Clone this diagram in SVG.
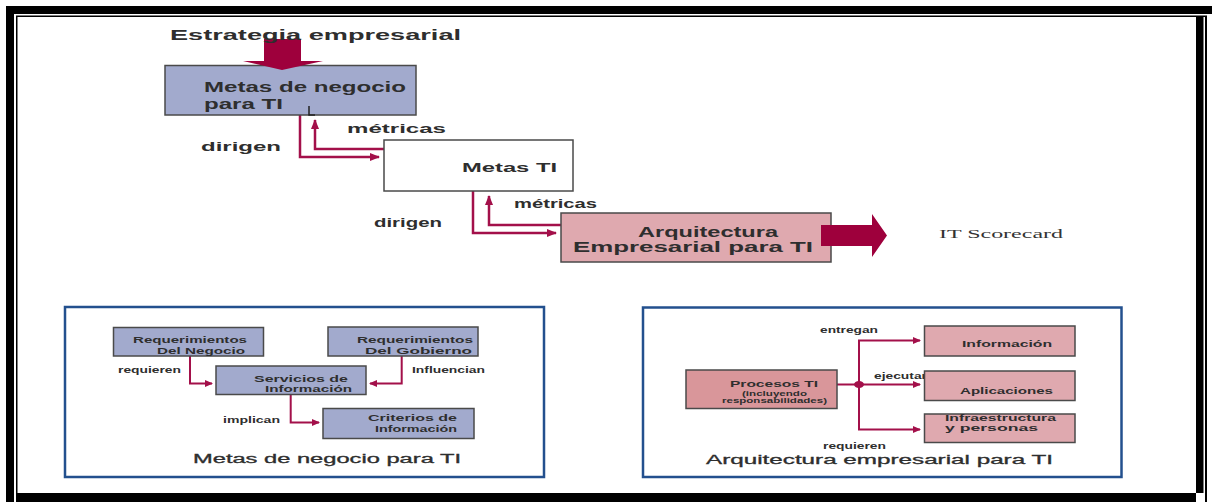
<svg xmlns="http://www.w3.org/2000/svg" width="1212" height="502" viewBox="0 0 1212 502">
<style>
.t{font-family:"Liberation Sans",Arial,sans-serif;font-weight:bold;fill:#2e2e2e}
.lav{fill:#a2aacd;stroke:#4a4a4a;stroke-width:1.5}
.pink{fill:#dfa9af;stroke:#4a4a4a;stroke-width:1.5}
.con{fill:none;stroke:#a3104a;stroke-width:2}
.con2{fill:none;stroke:#a3104a;stroke-width:2.5}
.panel{fill:#fff;stroke:#23508e;stroke-width:2.5}
.big{fill:#9e003c}
</style>
<defs>
<marker id="ah" markerUnits="userSpaceOnUse" markerWidth="8" markerHeight="8" refX="7" refY="4" orient="auto">
<path d="M0,0.5 L8,4 L0,7.5 Z" fill="#a3104a"/>
</marker>
<marker id="ah2" markerUnits="userSpaceOnUse" markerWidth="10" markerHeight="10" refX="9" refY="5" orient="auto">
<path d="M0,1 L10,5 L0,9 Z" fill="#a3104a"/>
</marker>
</defs>
<rect x="0" y="0" width="1212" height="502" fill="#fff"/>
<g id="frame" fill="#000">
<rect x="6" y="6" width="1206" height="8"/>
<rect x="6" y="6" width="8" height="496"/>
<rect x="16" y="15.5" width="1191" height="1.5"/>
<rect x="16" y="16" width="1.5" height="486"/>
<rect x="1196" y="17" width="7.5" height="476"/>
<rect x="1205" y="16" width="2" height="486"/>
<rect x="17" y="493" width="1179" height="9"/>
</g>
<g id="panel-left">
<rect class="panel" x="65" y="307" width="479" height="170"/>
<text x="193" y="463" font-family="'Liberation Sans',Arial,sans-serif" font-size="12" fill="#2e2e2e" textLength="268" lengthAdjust="spacingAndGlyphs" stroke="#2e2e2e" stroke-width="0.3">Metas de negocio para TI</text>
<text class="t" x="118" y="372.5" font-size="8.5" textLength="63" lengthAdjust="spacingAndGlyphs">requieren</text>
<text class="t" x="412" y="372.5" font-size="8.5" textLength="73" lengthAdjust="spacingAndGlyphs">Influencian</text>
<text class="t" x="223" y="422.5" font-size="8.5" textLength="57" lengthAdjust="spacingAndGlyphs">implican</text>
</g>
<g id="panel-right">
<rect class="panel" x="643" y="307.5" width="478.5" height="169.5"/>
<text x="706" y="463.5" font-family="'Liberation Sans',Arial,sans-serif" font-size="12.5" fill="#2e2e2e" textLength="347" lengthAdjust="spacingAndGlyphs" stroke="#2e2e2e" stroke-width="0.3">Arquitectura empresarial para TI</text>
<text class="t" x="820" y="333.3" font-size="8.5" textLength="58" lengthAdjust="spacingAndGlyphs">entregan</text>
<text class="t" x="823" y="449.3" font-size="8.5" textLength="63" lengthAdjust="spacingAndGlyphs">requieren</text>
</g>
<g id="connectors">
<path class="con2" d="M300,115 V157 H379" marker-end="url(#ah2)"/>
<path class="con2" d="M384,149 H315 V120" marker-end="url(#ah2)"/>
<path class="con2" d="M473,191 V233 H556" marker-end="url(#ah2)"/>
<path class="con2" d="M561,225 H489 V196" marker-end="url(#ah2)"/>
<path class="con" d="M190,356 V383.5 H212" marker-end="url(#ah)"/>
<path class="con" d="M401.7,356 V383.5 H370" marker-end="url(#ah)"/>
<path class="con" d="M290.7,394.5 V422.5 H319" marker-end="url(#ah)"/>
<path class="con" d="M837,384.5 H920" marker-end="url(#ah)"/>
<path class="con" d="M859,340.5 V429.5"/>
<path class="con" d="M858,340.5 H920" marker-end="url(#ah)"/>
<path class="con" d="M858,429.5 H920" marker-end="url(#ah)"/>
<ellipse cx="859" cy="384.5" rx="5" ry="3.5" fill="#a3104a"/>
</g>
<text class="t" x="874" y="378.5" font-size="8.5" textLength="56" lengthAdjust="spacingAndGlyphs">ejecutan</text>
<g id="metas-negocio">
<rect class="lav" x="165" y="65.5" width="251" height="49.5"/>
<text class="t" x="204" y="92" font-size="14" textLength="202" lengthAdjust="spacingAndGlyphs">Metas de negocio</text>
<text class="t" x="204" y="109" font-size="14" textLength="79" lengthAdjust="spacingAndGlyphs">para TI</text>
<path d="M309,106 V115 H315" fill="none" stroke="#222" stroke-width="1.5"/>
</g>
<g id="estrategia">
<path class="big" d="M264,39 H301 V61 H323 L282,70 L243,61 H264 Z"/>
<text class="t" x="170" y="40" font-size="15" textLength="291" lengthAdjust="spacingAndGlyphs">Estrategia empresarial</text>
</g>
<g id="labels-top">
<text class="t" x="347" y="133" font-size="13" textLength="99" lengthAdjust="spacingAndGlyphs">métricas</text>
<text class="t" x="201" y="151" font-size="13" textLength="80" lengthAdjust="spacingAndGlyphs">dirigen</text>
<text class="t" x="514" y="208" font-size="13" textLength="83" lengthAdjust="spacingAndGlyphs">métricas</text>
<text class="t" x="374" y="227" font-size="13" textLength="68" lengthAdjust="spacingAndGlyphs">dirigen</text>
</g>
<g id="metas-ti">
<rect x="384" y="140" width="189" height="51" fill="#fff" stroke="#4a4a4a" stroke-width="1.5"/>
<text class="t" x="462" y="172" font-size="13.5" textLength="95" lengthAdjust="spacingAndGlyphs">Metas TI</text>
</g>
<g id="arquitectura">
<rect class="pink" x="561" y="213" width="270" height="49"/>
<text class="t" x="638" y="236.5" font-size="14" textLength="140" lengthAdjust="spacingAndGlyphs">Arquitectura</text>
<text class="t" x="573" y="252" font-size="14" textLength="240" lengthAdjust="spacingAndGlyphs">Empresarial para TI</text>
<path class="big" d="M821,225 H872 V214 L887,235.5 L872,257 V246 H821 Z"/>
</g>
<g id="scorecard">
<text x="939" y="237.5" font-family="'Liberation Serif','Times New Roman',serif" font-size="13" fill="#333" textLength="124" lengthAdjust="spacingAndGlyphs">IT Scorecard</text>
</g>
<g id="req-negocio">
<rect class="lav" x="113.5" y="327.5" width="150" height="28.5"/>
<text class="t" x="133" y="343.3" font-size="9.5" textLength="114" lengthAdjust="spacingAndGlyphs">Requerimientos</text>
<text class="t" x="157" y="353.7" font-size="9.5" textLength="88" lengthAdjust="spacingAndGlyphs">Del Negocio</text>
</g>
<g id="req-gobierno">
<rect class="lav" x="328" y="327" width="150" height="29"/>
<text class="t" x="357" y="343.3" font-size="9.5" textLength="116" lengthAdjust="spacingAndGlyphs">Requerimientos</text>
<text class="t" x="365" y="353.7" font-size="9.5" textLength="107" lengthAdjust="spacingAndGlyphs">Del Gobierno</text>
</g>
<g id="servicios">
<rect class="lav" x="216" y="366" width="150" height="28.5"/>
<text class="t" x="254" y="381.7" font-size="9.5" textLength="94" lengthAdjust="spacingAndGlyphs">Servicios de</text>
<text class="t" x="265" y="391.7" font-size="9.5" textLength="87" lengthAdjust="spacingAndGlyphs">Información</text>
</g>
<g id="criterios">
<rect class="lav" x="323" y="408.5" width="151" height="30"/>
<text class="t" x="368" y="420.7" font-size="9.5" textLength="89" lengthAdjust="spacingAndGlyphs">Criterios de</text>
<text class="t" x="375" y="431.7" font-size="9.5" textLength="82" lengthAdjust="spacingAndGlyphs">Información</text>
</g>
<g id="procesos">
<rect x="686" y="370" width="151" height="38.5" fill="#d9969a" stroke="#4a4a4a" stroke-width="1.5"/>
<text class="t" x="730" y="386.7" font-size="9.5" textLength="88" lengthAdjust="spacingAndGlyphs">Procesos TI</text>
<text class="t" x="742" y="396" font-size="6.5" textLength="65" lengthAdjust="spacingAndGlyphs">(incluyendo</text>
<text class="t" x="722" y="402.5" font-size="6.5" textLength="105" lengthAdjust="spacingAndGlyphs">responsabilidades)</text>
</g>
<g id="informacion">
<rect class="pink" x="924.5" y="326" width="150.5" height="30"/>
<text class="t" x="962" y="347.3" font-size="9.5" textLength="90" lengthAdjust="spacingAndGlyphs">Información</text>
</g>
<g id="aplicaciones">
<rect class="pink" x="924.5" y="371" width="150.5" height="29.5"/>
<text class="t" x="960" y="393.5" font-size="9.5" textLength="93" lengthAdjust="spacingAndGlyphs">Aplicaciones</text>
</g>
<g id="infraestructura">
<rect class="pink" x="924.5" y="414" width="150.5" height="28.5"/>
<text class="t" x="945" y="420.5" font-size="9.5" textLength="111" lengthAdjust="spacingAndGlyphs">Infraestructura</text>
<text class="t" x="945" y="431" font-size="9.5" textLength="93" lengthAdjust="spacingAndGlyphs">y personas</text>
</g>
</svg>
